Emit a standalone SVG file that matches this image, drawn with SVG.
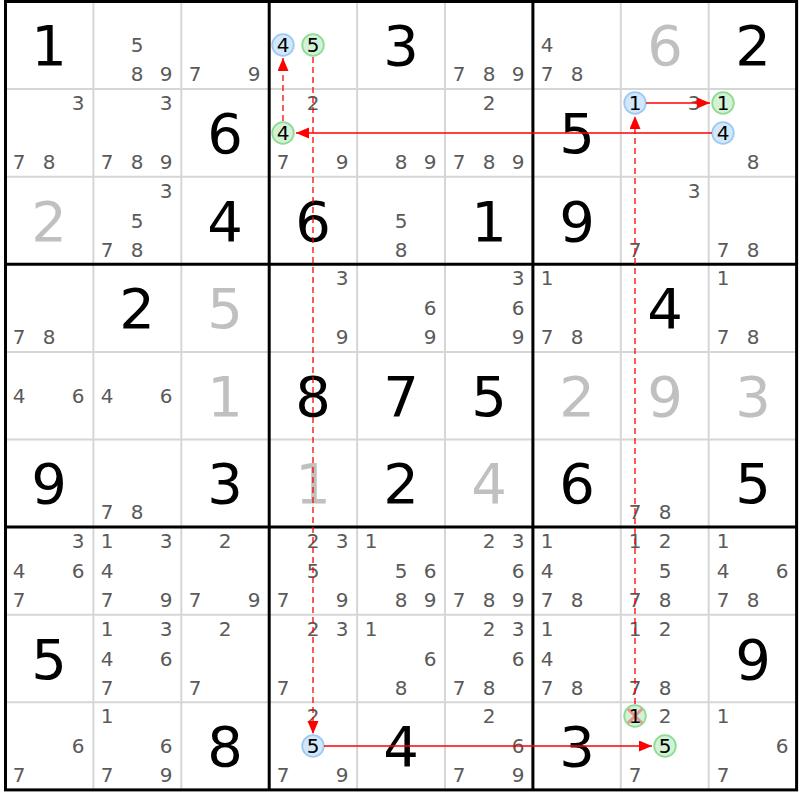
<svg xmlns="http://www.w3.org/2000/svg" width="800" height="800" viewBox="0 0 800 800">
<style>
text{font-family:"DejaVu Sans","Liberation Sans",sans-serif;text-anchor:middle}
.c{font-size:20px;fill:#5a5a5a}
.k{font-size:20px;fill:#000}
.g{font-size:56px;fill:#000}
.s{font-size:56px;fill:#c0c0c0}
.thin{stroke:#d6d6d6;stroke-width:2}
.thick{stroke:#000;stroke-width:3}
.cb{fill:#d3e7fb;stroke:#9ccaf3;stroke-width:1.8}
.cg{fill:#d3f2d5;stroke:#8edc93;stroke-width:1.8}
.ln{stroke:#f00;stroke-width:1.3;fill:none;marker-end:url(#ah)}
.dash{stroke-dasharray:6 4}
.x{stroke:#f08080;stroke-width:3;opacity:0.8}
</style>
<defs>
<marker id="ah" markerUnits="userSpaceOnUse" markerWidth="14" markerHeight="12" refX="13" refY="5.5" orient="auto">
<path d="M0,0 L13,5.5 L0,11 z" fill="#f00"/>
</marker>
</defs>
<rect x="0" y="0" width="800" height="800" fill="#fff"/>
<g id="grid">
<line class="thin" x1="93.4" y1="1.5" x2="93.4" y2="789.9"/>
<line class="thin" x1="181.3" y1="1.5" x2="181.3" y2="789.9"/>
<line class="thin" x1="357.1" y1="1.5" x2="357.1" y2="789.9"/>
<line class="thin" x1="445" y1="1.5" x2="445" y2="789.9"/>
<line class="thin" x1="620.8" y1="1.5" x2="620.8" y2="789.9"/>
<line class="thin" x1="708.7" y1="1.5" x2="708.7" y2="789.9"/>
<line class="thin" x1="5.5" y1="89.1" x2="796.6" y2="89.1"/>
<line class="thin" x1="5.5" y1="176.7" x2="796.6" y2="176.7"/>
<line class="thin" x1="5.5" y1="351.9" x2="796.6" y2="351.9"/>
<line class="thin" x1="5.5" y1="439.5" x2="796.6" y2="439.5"/>
<line class="thin" x1="5.5" y1="614.7" x2="796.6" y2="614.7"/>
<line class="thin" x1="5.5" y1="702.3" x2="796.6" y2="702.3"/>
<line class="thick" x1="269.2" y1="1.5" x2="269.2" y2="789.9"/>
<line class="thick" x1="532.9" y1="1.5" x2="532.9" y2="789.9"/>
<line class="thick" x1="5.5" y1="264.3" x2="796.6" y2="264.3"/>
<line class="thick" x1="5.5" y1="527.1" x2="796.6" y2="527.1"/>
<rect class="thick" x="5.5" y="1.5" width="791.1" height="788.4" fill="none"/>
</g>
<g id="r1c1"><text class="g" x="49" y="65">1</text></g>
<g id="r1c2"><text class="c" x="137" y="52">5</text><text class="c" x="137" y="80.5">8</text><text class="c" x="166" y="80.5">9</text></g>
<g id="r1c3"><text class="c" x="195" y="80.5">7</text><text class="c" x="254" y="80.5">9</text></g>
<g id="r1c4"><circle class="cb" cx="283" cy="45" r="10.8"/><text class="k" x="283" y="52">4</text><circle class="cg" cx="313" cy="45" r="10.8"/><text class="k" x="313" y="52">5</text></g>
<g id="r1c5"><text class="g" x="401" y="65">3</text></g>
<g id="r1c6"><text class="c" x="459" y="80.5">7</text><text class="c" x="489" y="80.5">8</text><text class="c" x="518" y="80.5">9</text></g>
<g id="r1c7"><text class="c" x="547" y="52">4</text><text class="c" x="547" y="80.5">7</text><text class="c" x="577" y="80.5">8</text></g>
<g id="r1c8"><text class="s" x="665" y="65">6</text></g>
<g id="r1c9"><text class="g" x="753" y="65">2</text></g>
<g id="r2c1"><text class="c" x="78" y="110">3</text><text class="c" x="19" y="168.5">7</text><text class="c" x="49" y="168.5">8</text></g>
<g id="r2c2"><text class="c" x="166" y="110">3</text><text class="c" x="107" y="168.5">7</text><text class="c" x="137" y="168.5">8</text><text class="c" x="166" y="168.5">9</text></g>
<g id="r2c3"><text class="g" x="225" y="153">6</text></g>
<g id="r2c4"><text class="c" x="313" y="110">2</text><circle class="cg" cx="283" cy="133" r="10.8"/><text class="k" x="283" y="140">4</text><text class="c" x="283" y="168.5">7</text><text class="c" x="342" y="168.5">9</text></g>
<g id="r2c5"><text class="c" x="401" y="168.5">8</text><text class="c" x="430" y="168.5">9</text></g>
<g id="r2c6"><text class="c" x="489" y="110">2</text><text class="c" x="459" y="168.5">7</text><text class="c" x="489" y="168.5">8</text><text class="c" x="518" y="168.5">9</text></g>
<g id="r2c7"><text class="g" x="577" y="153">5</text></g>
<g id="r2c8"><circle class="cb" cx="635" cy="103" r="10.8"/><text class="k" x="635" y="110">1</text><text class="c" x="694" y="110">3</text></g>
<g id="r2c9"><circle class="cg" cx="723" cy="103" r="10.8"/><text class="k" x="723" y="110">1</text><circle class="cb" cx="723" cy="133" r="10.8"/><text class="k" x="723" y="140">4</text><text class="c" x="753" y="168.5">8</text></g>
<g id="r3c1"><text class="s" x="49" y="241">2</text></g>
<g id="r3c2"><text class="c" x="166" y="198">3</text><text class="c" x="137" y="228">5</text><text class="c" x="107" y="256.5">7</text><text class="c" x="137" y="256.5">8</text></g>
<g id="r3c3"><text class="g" x="225" y="241">4</text></g>
<g id="r3c4"><text class="g" x="313" y="241">6</text></g>
<g id="r3c5"><text class="c" x="401" y="228">5</text><text class="c" x="401" y="256.5">8</text></g>
<g id="r3c6"><text class="g" x="489" y="241">1</text></g>
<g id="r3c7"><text class="g" x="577" y="241">9</text></g>
<g id="r3c8"><text class="c" x="694" y="198">3</text><text class="c" x="635" y="256.5">7</text></g>
<g id="r3c9"><text class="c" x="723" y="256.5">7</text><text class="c" x="753" y="256.5">8</text></g>
<g id="r4c1"><text class="c" x="19" y="343.5">7</text><text class="c" x="49" y="343.5">8</text></g>
<g id="r4c2"><text class="g" x="137" y="328">2</text></g>
<g id="r4c3"><text class="s" x="225" y="328">5</text></g>
<g id="r4c4"><text class="c" x="342" y="285">3</text><text class="c" x="342" y="343.5">9</text></g>
<g id="r4c5"><text class="c" x="430" y="315">6</text><text class="c" x="430" y="343.5">9</text></g>
<g id="r4c6"><text class="c" x="518" y="285">3</text><text class="c" x="518" y="315">6</text><text class="c" x="518" y="343.5">9</text></g>
<g id="r4c7"><text class="c" x="547" y="285">1</text><text class="c" x="547" y="343.5">7</text><text class="c" x="577" y="343.5">8</text></g>
<g id="r4c8"><text class="g" x="665" y="328">4</text></g>
<g id="r4c9"><text class="c" x="723" y="285">1</text><text class="c" x="723" y="343.5">7</text><text class="c" x="753" y="343.5">8</text></g>
<g id="r5c1"><text class="c" x="19" y="403">4</text><text class="c" x="78" y="403">6</text></g>
<g id="r5c2"><text class="c" x="107" y="403">4</text><text class="c" x="166" y="403">6</text></g>
<g id="r5c3"><text class="s" x="225" y="416">1</text></g>
<g id="r5c4"><text class="g" x="313" y="416">8</text></g>
<g id="r5c5"><text class="g" x="401" y="416">7</text></g>
<g id="r5c6"><text class="g" x="489" y="416">5</text></g>
<g id="r5c7"><text class="s" x="577" y="416">2</text></g>
<g id="r5c8"><text class="s" x="665" y="416">9</text></g>
<g id="r5c9"><text class="s" x="753" y="416">3</text></g>
<g id="r6c1"><text class="g" x="49" y="503">9</text></g>
<g id="r6c2"><text class="c" x="107" y="518.5">7</text><text class="c" x="137" y="518.5">8</text></g>
<g id="r6c3"><text class="g" x="225" y="503">3</text></g>
<g id="r6c4"><text class="s" x="313" y="503">1</text></g>
<g id="r6c5"><text class="g" x="401" y="503">2</text></g>
<g id="r6c6"><text class="s" x="489" y="503">4</text></g>
<g id="r6c7"><text class="g" x="577" y="503">6</text></g>
<g id="r6c8"><text class="c" x="635" y="518.5">7</text><text class="c" x="665" y="518.5">8</text></g>
<g id="r6c9"><text class="g" x="753" y="503">5</text></g>
<g id="r7c1"><text class="c" x="78" y="548">3</text><text class="c" x="19" y="578">4</text><text class="c" x="78" y="578">6</text><text class="c" x="19" y="606.5">7</text></g>
<g id="r7c2"><text class="c" x="107" y="548">1</text><text class="c" x="166" y="548">3</text><text class="c" x="107" y="578">4</text><text class="c" x="107" y="606.5">7</text><text class="c" x="166" y="606.5">9</text></g>
<g id="r7c3"><text class="c" x="225" y="548">2</text><text class="c" x="195" y="606.5">7</text><text class="c" x="254" y="606.5">9</text></g>
<g id="r7c4"><text class="c" x="313" y="548">2</text><text class="c" x="342" y="548">3</text><text class="c" x="313" y="578">5</text><text class="c" x="283" y="606.5">7</text><text class="c" x="342" y="606.5">9</text></g>
<g id="r7c5"><text class="c" x="371" y="548">1</text><text class="c" x="401" y="578">5</text><text class="c" x="430" y="578">6</text><text class="c" x="401" y="606.5">8</text><text class="c" x="430" y="606.5">9</text></g>
<g id="r7c6"><text class="c" x="489" y="548">2</text><text class="c" x="518" y="548">3</text><text class="c" x="518" y="578">6</text><text class="c" x="459" y="606.5">7</text><text class="c" x="489" y="606.5">8</text><text class="c" x="518" y="606.5">9</text></g>
<g id="r7c7"><text class="c" x="547" y="548">1</text><text class="c" x="547" y="578">4</text><text class="c" x="547" y="606.5">7</text><text class="c" x="577" y="606.5">8</text></g>
<g id="r7c8"><text class="c" x="635" y="548">1</text><text class="c" x="665" y="548">2</text><text class="c" x="665" y="578">5</text><text class="c" x="635" y="606.5">7</text><text class="c" x="665" y="606.5">8</text></g>
<g id="r7c9"><text class="c" x="723" y="548">1</text><text class="c" x="723" y="578">4</text><text class="c" x="782" y="578">6</text><text class="c" x="723" y="606.5">7</text><text class="c" x="753" y="606.5">8</text></g>
<g id="r8c1"><text class="g" x="49" y="679">5</text></g>
<g id="r8c2"><text class="c" x="107" y="636">1</text><text class="c" x="166" y="636">3</text><text class="c" x="107" y="666">4</text><text class="c" x="166" y="666">6</text><text class="c" x="107" y="694.5">7</text></g>
<g id="r8c3"><text class="c" x="225" y="636">2</text><text class="c" x="195" y="694.5">7</text></g>
<g id="r8c4"><text class="c" x="313" y="636">2</text><text class="c" x="342" y="636">3</text><text class="c" x="283" y="694.5">7</text></g>
<g id="r8c5"><text class="c" x="371" y="636">1</text><text class="c" x="430" y="666">6</text><text class="c" x="401" y="694.5">8</text></g>
<g id="r8c6"><text class="c" x="489" y="636">2</text><text class="c" x="518" y="636">3</text><text class="c" x="518" y="666">6</text><text class="c" x="459" y="694.5">7</text><text class="c" x="489" y="694.5">8</text></g>
<g id="r8c7"><text class="c" x="547" y="636">1</text><text class="c" x="547" y="666">4</text><text class="c" x="547" y="694.5">7</text><text class="c" x="577" y="694.5">8</text></g>
<g id="r8c8"><text class="c" x="635" y="636">1</text><text class="c" x="665" y="636">2</text><text class="c" x="635" y="694.5">7</text><text class="c" x="665" y="694.5">8</text></g>
<g id="r8c9"><text class="g" x="753" y="679">9</text></g>
<g id="r9c1"><text class="c" x="78" y="753">6</text><text class="c" x="19" y="781.5">7</text></g>
<g id="r9c2"><text class="c" x="107" y="723">1</text><text class="c" x="166" y="753">6</text><text class="c" x="107" y="781.5">7</text><text class="c" x="166" y="781.5">9</text></g>
<g id="r9c3"><text class="g" x="225" y="766">8</text></g>
<g id="r9c4"><text class="c" x="313" y="723">2</text><circle class="cb" cx="313" cy="746" r="10.8"/><text class="k" x="313" y="753">5</text><text class="c" x="283" y="781.5">7</text><text class="c" x="342" y="781.5">9</text></g>
<g id="r9c5"><text class="g" x="401" y="766">4</text></g>
<g id="r9c6"><text class="c" x="489" y="723">2</text><text class="c" x="518" y="753">6</text><text class="c" x="459" y="781.5">7</text><text class="c" x="518" y="781.5">9</text></g>
<g id="r9c7"><text class="g" x="577" y="766">3</text></g>
<g id="r9c8"><circle class="cg" cx="635" cy="716" r="10.8"/><line class="x" x1="628" y1="709" x2="642" y2="723"/><line class="x" x1="642" y1="709" x2="628" y2="723"/><text class="k" x="635" y="723">1</text><text class="c" x="665" y="723">2</text><circle class="cg" cx="665" cy="746" r="10.8"/><text class="k" x="665" y="753">5</text><text class="c" x="635" y="781.5">7</text></g>
<g id="r9c9"><text class="c" x="723" y="723">1</text><text class="c" x="782" y="753">6</text><text class="c" x="723" y="781.5">7</text></g>
<g id="connectors">
<line class="ln dash" x1="313" y1="57" x2="313" y2="734"/>
<line class="ln" x1="324" y1="746" x2="652" y2="746"/>
<line class="ln dash" x1="635" y1="704" x2="635" y2="116"/>
<line class="ln" x1="646" y1="103" x2="710" y2="103"/>
<line class="ln" x1="712" y1="133" x2="296" y2="133"/>
<line class="ln dash" x1="283" y1="121" x2="283" y2="58"/>
</g>
</svg>
